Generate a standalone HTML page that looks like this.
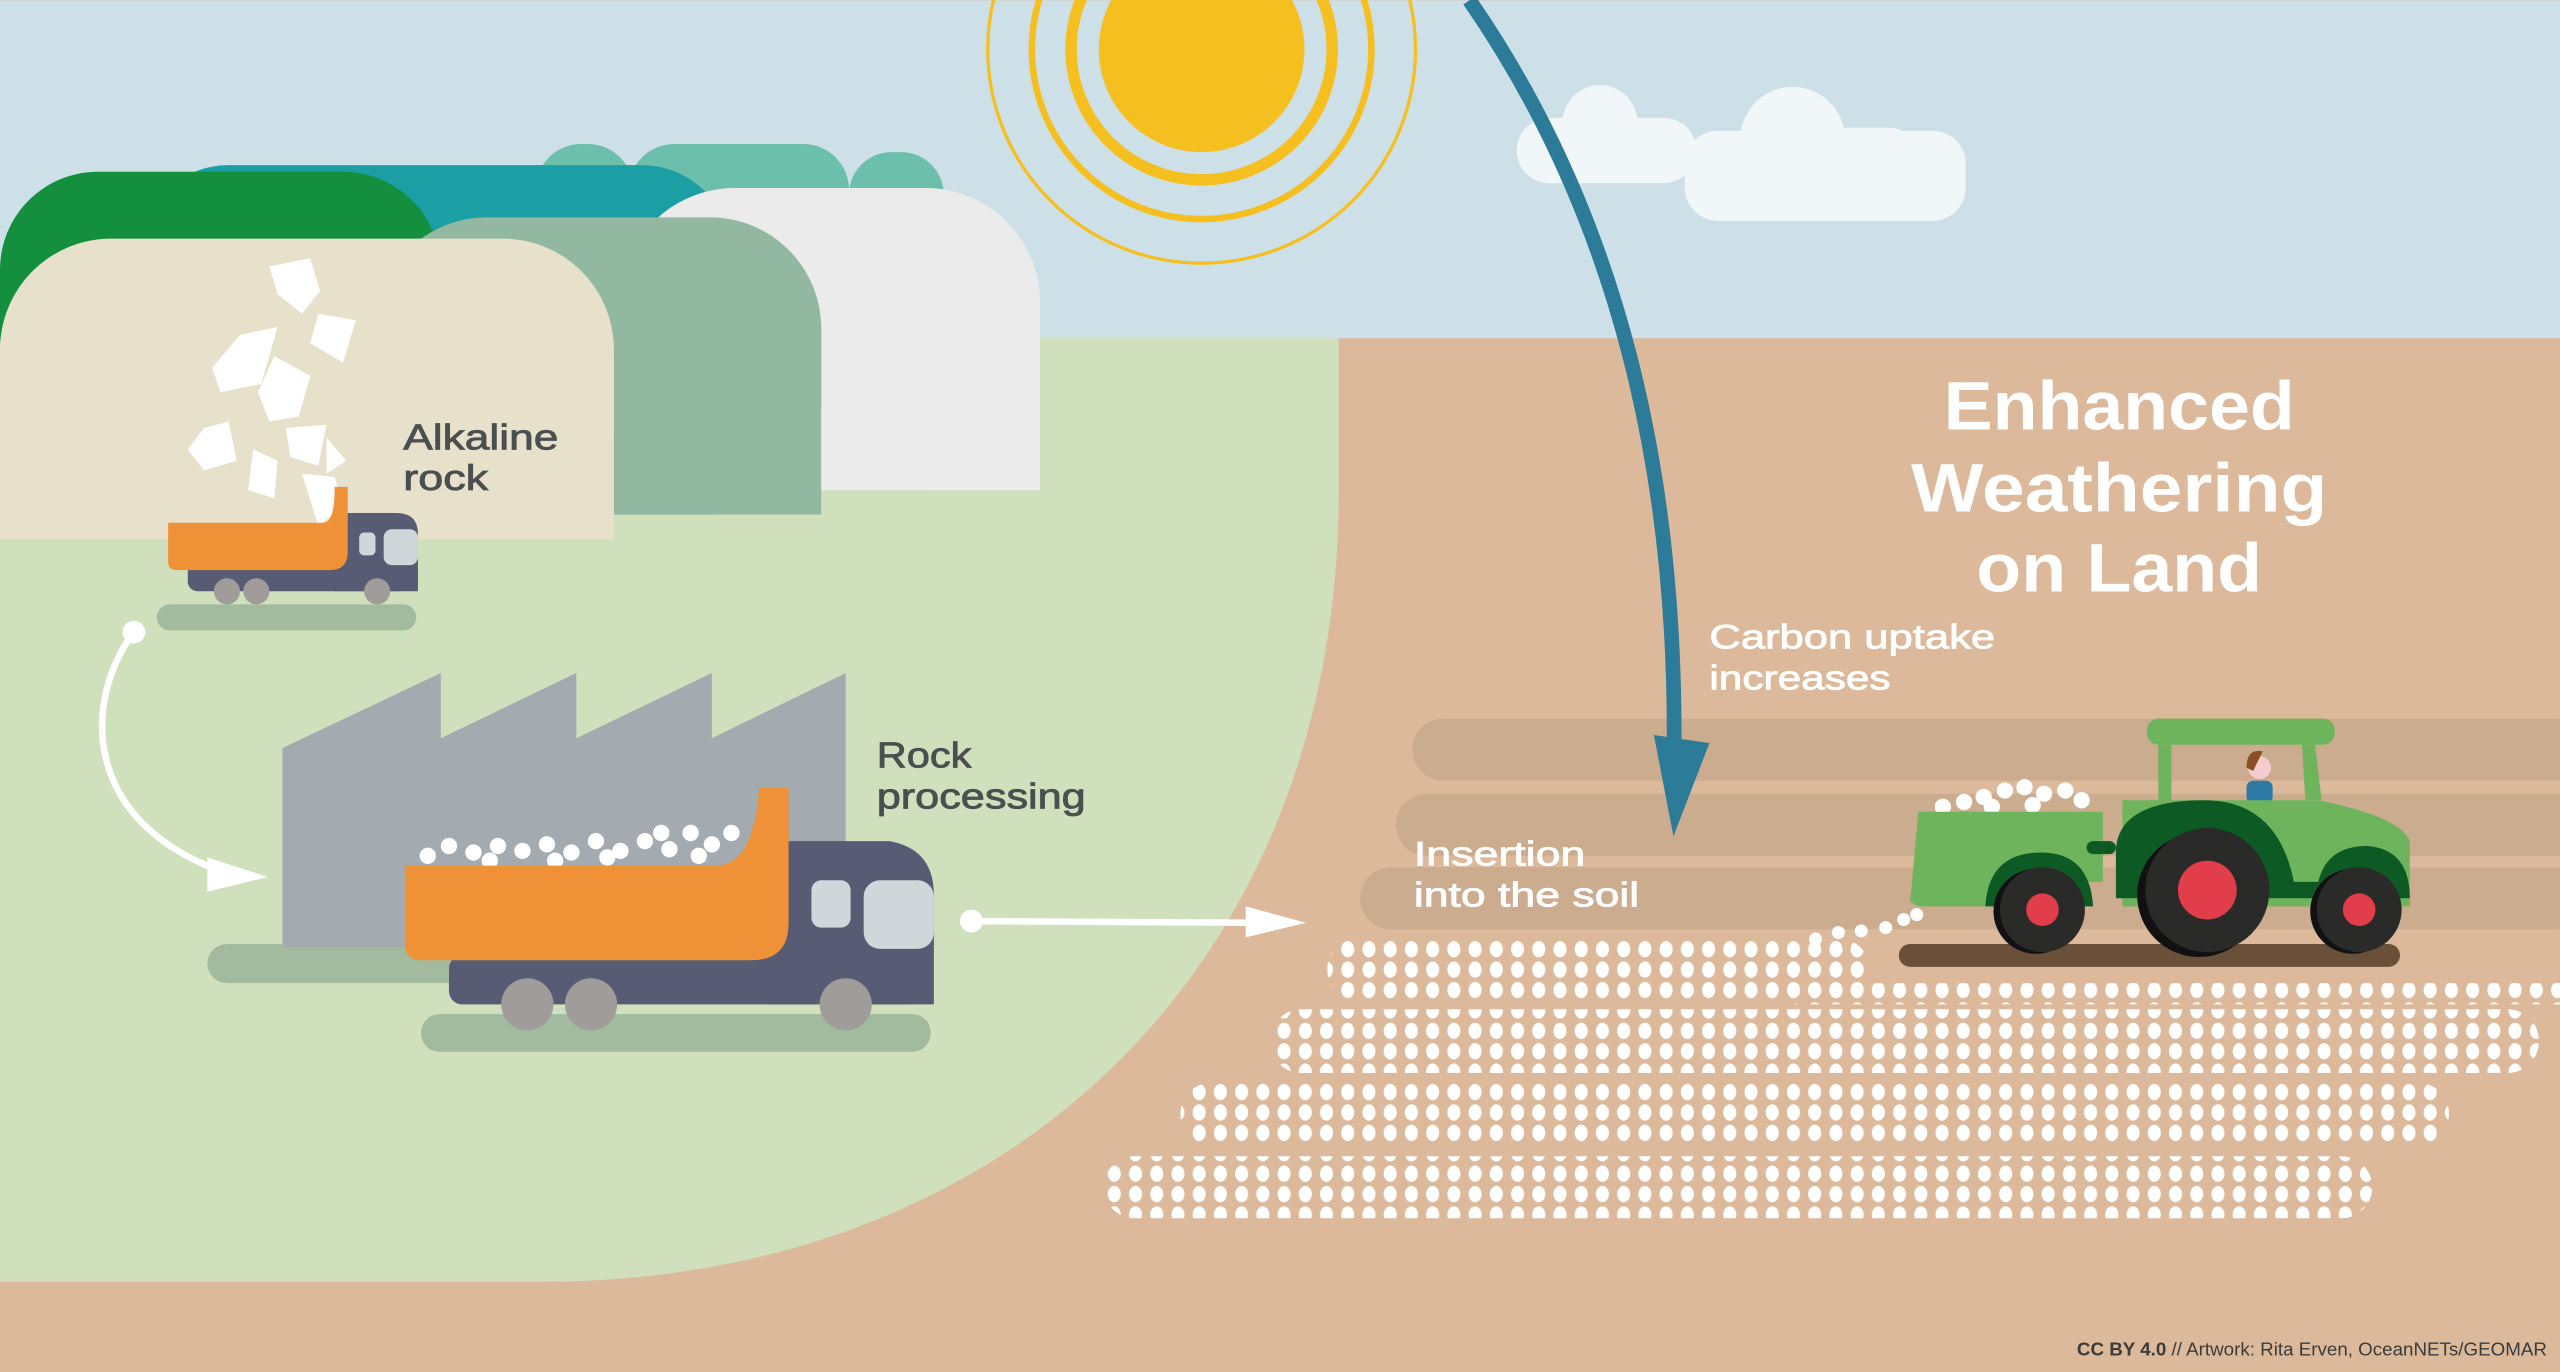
<!DOCTYPE html>
<html><head><meta charset="utf-8"><style>
html,body{margin:0;padding:0;width:2560px;height:1372px;overflow:hidden;background:#dcb99a}
svg{display:block}
text{font-family:"Liberation Sans",sans-serif}
</style></head><body>
<svg width="2560" height="1372" viewBox="0 0 1568 840" xmlns="http://www.w3.org/2000/svg">
<defs>
<pattern id="dots" x="0" y="0" width="13" height="12.5" patternUnits="userSpaceOnUse">
<ellipse cx="6.5" cy="6.2" rx="4" ry="5" fill="#fff"/>
</pattern>
</defs>
<rect width="1568" height="840" fill="#dcb99a"/>
<rect width="1568" height="207" fill="#cde0e8"/>
<!-- sun -->
<g fill="none" stroke="#f5bf1f">
<circle cx="736" cy="30" r="80" stroke-width="7"/>
<circle cx="736" cy="30" r="104" stroke-width="4"/>
<circle cx="736" cy="30" r="131" stroke-width="2"/>
</g>
<circle cx="736" cy="30" r="63" fill="#f5bf1f"/>
<!-- clouds -->
<g fill="#f1f6f9">
<rect x="929" y="72" width="110" height="40" rx="20"/>
<circle cx="980" cy="75" r="23"/>
<rect x="1032" y="80" width="172" height="55" rx="20"/>
<circle cx="1098" cy="85" r="32"/>
<rect x="1060" y="78" width="115" height="40" rx="18"/>
</g>
<!-- green land -->
<path d="M0,207 H820 V300 C820,590 620,785 330,785 H0 Z" fill="#d0e0bd"/>
<!-- hills -->
<g>
<rect x="328" y="88" width="60" height="60" rx="28" fill="#6bbfab"/>
<rect x="385" y="88" width="135" height="60" rx="28" fill="#6bbfab"/>
<rect x="520" y="93" width="58" height="60" rx="26" fill="#6bbfab"/>
<rect x="85" y="101" width="363" height="160" rx="55" fill="#1b9ea4"/>
<rect x="0" y="105" width="270" height="160" rx="60" fill="#138f3e"/>
<rect x="380" y="115" width="257" height="185" rx="70" fill="#ebebeb"/>
<path d="M380,185 V300 H637 V185 Z" fill="#ebebeb"/>
<rect x="230" y="133" width="273" height="182" rx="68" fill="#92b8a1"/>
<rect x="230" y="200" width="273" height="115" fill="#92b8a1"/>
<rect x="0" y="146" width="376" height="184" rx="68" fill="#e7e1cb"/>
<rect x="0" y="220" width="376" height="110" fill="#e7e1cb"/>
</g>
<!-- falling rocks -->
<g fill="#fff">
<path d="M165,163 L190,158 L196,178 L185,192 L170,180Z"/>
<path d="M195,192 L218,196 L210,222 L190,210Z"/>
<path d="M147,205 L170,200 L160,235 L135,240 L130,225Z"/>
<path d="M168,218 L190,230 L183,255 L165,258 L158,240Z"/>
<path d="M125,262 L140,258 L145,282 L125,288 L115,275Z"/>
<path d="M175,262 L200,260 L195,285 L178,280Z"/>
<path d="M155,275 L170,282 L168,305 L152,300Z"/>
<path d="M185,290 L205,292 L210,310 L195,322Z"/>
<path d="M200,268 L212,282 L200,290Z"/>
</g>
<!-- small truck -->
<rect x="96" y="370" width="159" height="16" rx="8" fill="#a2bb9f"/>
<rect x="115" y="340" width="135" height="22" rx="6" fill="#575c74"/>
<path d="M205,314 H243 Q256,314 256,327 V362 H205 Z" fill="#575c74"/>
<rect x="220" y="326" width="10" height="14" rx="3" fill="#cfd7db"/>
<rect x="235" y="324" width="21" height="22" rx="5" fill="#cfd7db"/>
<path d="M103,320 H198 Q205,320 205,298 H213 V338 Q213,349 202,349 H108 Q103,349 103,344 Z" fill="#ef9137"/>
<g fill="#a09c9a"><circle cx="139" cy="362" r="8"/><circle cx="157" cy="362" r="8"/><circle cx="231" cy="362" r="8"/></g>
<!-- curved arrow -->
<path d="M82,387 C50,430 50,505 140,535" fill="none" stroke="#fff" stroke-width="4"/>
<circle cx="82" cy="387" r="7" fill="#fff"/>
<polygon points="127,525 164,537 127,546" fill="#fff"/>
<!-- factory -->
<rect x="127" y="578" width="373" height="24" rx="12" fill="#a2bb9f"/>
<polygon points="173,458 270,412 270,452 353,412 353,452 436,412 436,452 518,412 518,580 173,580" fill="#a3abb0"/>
<!-- big truck -->
<rect x="258" y="621" width="312" height="23" rx="11" fill="#a2bb9f"/>
<rect x="275" y="585" width="290" height="30" rx="8" fill="#575c74"/>
<path d="M470,515 H545 Q572,520 572,548 V615 H470 Z" fill="#575c74"/>
<rect x="497" y="539" width="24" height="29" rx="6" fill="#cfd7db"/>
<rect x="529" y="539" width="43" height="42" rx="10" fill="#cfd7db"/>
<g fill="#fff">
<circle cx="262" cy="524" r="5"/><circle cx="275" cy="518" r="5"/><circle cx="290" cy="522" r="5"/><circle cx="305" cy="518" r="5"/><circle cx="320" cy="521" r="5"/><circle cx="335" cy="517" r="5"/><circle cx="350" cy="522" r="5"/><circle cx="365" cy="515" r="5"/><circle cx="380" cy="521" r="5"/><circle cx="395" cy="515" r="5"/><circle cx="410" cy="520" r="5"/><circle cx="423" cy="510" r="5"/><circle cx="436" cy="517" r="5"/><circle cx="448" cy="510" r="5"/><circle cx="300" cy="527" r="5"/><circle cx="340" cy="527" r="5"/><circle cx="372" cy="525" r="5"/><circle cx="405" cy="510" r="5"/><circle cx="428" cy="524" r="5"/>
</g>
<path d="M248,530 H440 Q462,528 465,482 H483 V565 Q483,588 460,588 H258 Q248,588 248,578 Z" fill="#ef9137"/>
<g fill="#a09c9a"><circle cx="323" cy="615" r="16"/><circle cx="362" cy="615" r="16"/><circle cx="518" cy="615" r="16"/></g>
<!-- horizontal arrow -->
<line x1="595" y1="564" x2="770" y2="565" stroke="#fff" stroke-width="4"/>
<circle cx="595" cy="564" r="7" fill="#fff"/>
<polygon points="763,555 800,565 763,574" fill="#fff"/>
<!-- soil bands -->
<g fill="#cbac8f">
<rect x="865" y="440" width="720" height="38" rx="19"/>
<rect x="855" y="486" width="730" height="38" rx="19"/>
<rect x="833" y="531" width="750" height="38" rx="19"/>
</g>
<!-- dotted bands -->
<g fill="url(#dots)">
<rect x="813" y="575" width="332" height="37" rx="18"/>
<rect x="1100" y="602" width="468" height="13"/>
<rect x="778" y="618" width="777" height="39" rx="19"/>
<rect x="723" y="663" width="777" height="38" rx="19"/>
<rect x="676" y="708" width="777" height="38" rx="19"/>
</g>
<g fill="#fff"><circle cx="1112" cy="575" r="4"/><circle cx="1126" cy="571" r="4"/><circle cx="1140" cy="570" r="4"/><circle cx="1155" cy="568" r="4"/><circle cx="1166" cy="563" r="4"/><circle cx="1174" cy="560" r="4"/></g>
<!-- blue arrow -->
<path d="M900,0 C990,130 1030,290 1025,480" fill="none" stroke="#2b7b99" stroke-width="9"/>
<polygon points="1013,450 1047,455 1025,512" fill="#2b7b99"/>
<!-- tractor -->
<rect x="1163" y="578" width="307" height="14" rx="7" fill="#6a5039"/>
<g fill="#fff"><circle cx="1190" cy="494" r="5"/><circle cx="1203" cy="491" r="5"/><circle cx="1215" cy="488" r="5"/><circle cx="1228" cy="484" r="5"/><circle cx="1240" cy="482" r="5"/><circle cx="1252" cy="486" r="5"/><circle cx="1265" cy="484" r="5"/><circle cx="1275" cy="490" r="5"/><circle cx="1245" cy="493" r="5"/><circle cx="1220" cy="494" r="5"/></g>
<path d="M1175,497 H1288 V540 H1260 L1255,555 H1175 L1170,552 Z" fill="#6db45c"/>
<rect x="1278" y="515" width="18" height="8" rx="4" fill="#0e5a25"/>
<rect x="1315" y="440" width="115" height="16" rx="7" fill="#6db45c"/>
<path d="M1322,456 H1330 L1330,490 H1322Z M1410,456 H1418 L1422,490 H1412Z" fill="#6db45c"/>
<circle cx="1384" cy="470" r="7" fill="#f6cdcf"/>
<path d="M1376,470 Q1376,458 1386,460 L1380,472Z" fill="#8a4f22"/>
<rect x="1376" y="478" width="16" height="14" rx="4" fill="#2d7aa6"/>
<path d="M1300,490 H1420 Q1470,500 1476,515 V555 H1300 Z" fill="#6db45c"/>
<path d="M1296,520 Q1298,490 1350,490 Q1395,490 1405,540 H1420 Q1425,518 1450,518 Q1476,520 1476,550 H1296 Z" fill="#0e5a25"/>
<path d="M1216,555 Q1218,522 1250,522 Q1280,522 1282,555 Z" fill="#0e5a25"/>
<circle cx="1347" cy="548" r="38" fill="#111"/>
<circle cx="1352" cy="545" r="38" fill="#2a2b28"/>
<circle cx="1352" cy="545" r="18" fill="#e23d4b"/>
<circle cx="1247" cy="558" r="26" fill="#111"/>
<circle cx="1251" cy="557" r="26" fill="#2a2b28"/>
<circle cx="1251" cy="557" r="10" fill="#e23d4b"/>
<circle cx="1441" cy="558" r="26" fill="#111"/>
<circle cx="1445" cy="557" r="26" fill="#2a2b28"/>
<circle cx="1445" cy="557" r="10" fill="#e23d4b"/>
<!-- texts -->
<g fill="#4a4f4f" font-size="22" stroke="#4a4f4f" stroke-width="0.5">
<text x="247" y="275" textLength="95" lengthAdjust="spacingAndGlyphs">Alkaline</text><text x="247" y="300" textLength="52" lengthAdjust="spacingAndGlyphs">rock</text>
<text x="537" y="470" textLength="58" lengthAdjust="spacingAndGlyphs">Rock</text><text x="537" y="495" textLength="128" lengthAdjust="spacingAndGlyphs">processing</text>
</g>
<g fill="#fff" font-size="21" stroke="#fff" stroke-width="0.5">
<text x="866" y="530" textLength="105" lengthAdjust="spacingAndGlyphs">Insertion</text><text x="866" y="555" textLength="138" lengthAdjust="spacingAndGlyphs">into the soil</text>
<text x="1047" y="397" textLength="175" lengthAdjust="spacingAndGlyphs">Carbon uptake</text><text x="1047" y="422" textLength="111" lengthAdjust="spacingAndGlyphs">increases</text>
</g>
<g fill="#fff" font-size="42" font-weight="bold" text-anchor="middle">
<text x="1298" y="263" textLength="215" lengthAdjust="spacingAndGlyphs">Enhanced</text><text x="1298" y="313" textLength="255" lengthAdjust="spacingAndGlyphs">Weathering</text><text x="1298" y="362" textLength="175" lengthAdjust="spacingAndGlyphs">on Land</text>
</g>
<text x="1560" y="830" font-size="11.5" fill="#3b3b3b" text-anchor="end"><tspan font-weight="bold">CC BY 4.0</tspan> // Artwork: Rita Erven, OceanNETs/GEOMAR</text>
</svg>
</body></html>
